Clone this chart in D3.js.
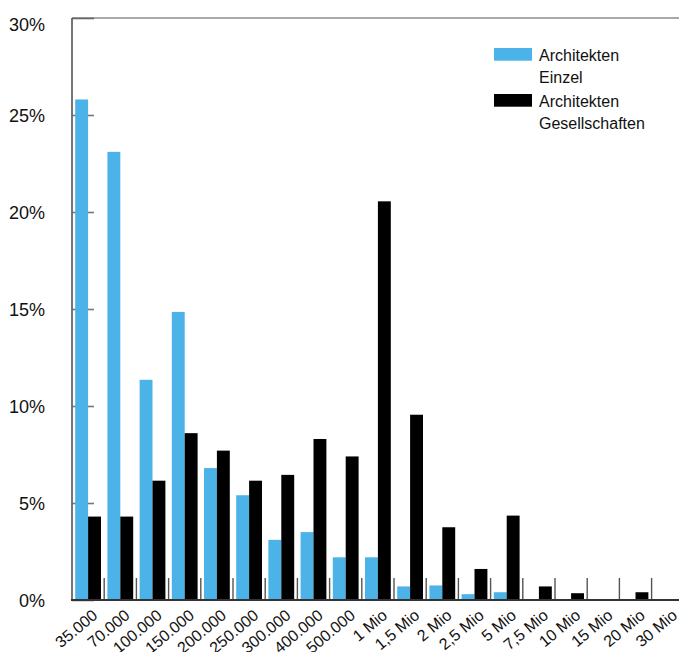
<!DOCTYPE html>
<html>
<head>
<meta charset="utf-8">
<script src="https://cdn.jsdelivr.net/npm/d3@7"></script>
<style>
  html, body { margin: 0; padding: 0; background: #fff; }
  svg { display: block; font-family: "Liberation Sans", Arial, Helvetica, sans-serif; }
</style>
</head>
<body>
<svg id="chart" width="679" height="652"></svg>
<script>
// ---- Data ----
const categories = ["35.000", "70.000", "100.000", "150.000", "200.000", "250.000", "300.000", "400.000", "500.000",
  "1 Mio", "1,5 Mio", "2 Mio", "2,5 Mio", "5 Mio", "7,5 Mio", "10 Mio", "15 Mio", "20 Mio", "30 Mio"];
const seriesNames = ["Architekten Einzel", "Architekten Gesellschaften"];
const einzel = [25.8, 23.1, 11.35, 14.85, 6.8, 5.4, 3.1, 3.5, 2.2, 2.2, 0.7, 0.75, 0.3, 0.4, 0, 0, 0, 0, 0];
const gesellschaften = [4.3, 4.3, 6.15, 8.6, 7.7, 6.15, 6.45, 8.3, 7.4, 20.55, 9.55, 3.75, 1.6, 4.35, 0.7, 0.35, 0, 0.4, 0];
const yTicks = [0, 5, 10, 15, 20, 25, 30];
const legendLines = [["Architekten", "Einzel"], ["Architekten", "Gesellschaften"]];
const colors = ["#4bb3e8", "#000000"];

// ---- Layout ----
const W = 679, H = 652;
const plotLeft = 72, plotTop = 18, plotBottom = 600;
const step = 32.2;

const svg = d3.select("#chart");

const x = d3.scaleBand().domain(categories).range([plotLeft, plotLeft + step * categories.length]).padding(0);
const xs = d3.scaleBand().domain(seriesNames).range([3.2, x.bandwidth() - 3.2]).padding(0);
const y = d3.scaleLinear().domain([0, 30]).range([plotBottom, plotTop]);

// y axis (ticks inside, behind bars)
const yAxis = d3.axisLeft(y).tickValues(yTicks).tickSize(-22).tickSizeOuter(0).tickPadding(27)
  .tickFormat(d => d + "%");
const gy = svg.append("g").attr("transform", `translate(${plotLeft},0)`).call(yAxis);
gy.select(".domain").remove();
gy.selectAll(".tick line").attr("stroke", "#777").attr("stroke-width", 1.6);
gy.selectAll(".tick text").attr("font-size", 18).attr("fill", "#111")
  .attr("font-family", "'Liberation Sans', Arial, sans-serif")
  .attr("dy", d => d === 30 ? "0.7em" : "0.35em");

// category separator ticks
svg.append("g").selectAll("line").data(categories.slice(1)).join("line")
  .attr("x1", d => x(d)).attr("x2", d => x(d))
  .attr("y1", plotBottom).attr("y2", plotBottom - 22)
  .attr("stroke", "#555").attr("stroke-width", 1.4);

// bars
const rows = categories.map((c, i) => ({ c, vals: [einzel[i], gesellschaften[i]] }));
const groups = svg.append("g").selectAll("g").data(rows).join("g")
  .attr("transform", d => `translate(${x(d.c)},0)`);
groups.selectAll("rect").data(d => d.vals.map((v, j) => ({ v, s: seriesNames[j], j }))).join("rect")
  .attr("x", d => xs(d.s))
  .attr("width", xs.bandwidth())
  .attr("y", d => y(d.v))
  .attr("height", d => plotBottom - y(d.v))
  .attr("fill", d => colors[d.j]);

// frame lines
svg.append("line").attr("x1", plotLeft).attr("x2", plotLeft).attr("y1", plotTop).attr("y2", plotBottom)
  .attr("stroke", "#666").attr("stroke-width", 1.8);
svg.append("line").attr("x1", plotLeft).attr("x2", W).attr("y1", plotTop).attr("y2", plotTop)
  .attr("stroke", "#555").attr("stroke-width", 1.2);
svg.append("line").attr("x1", plotLeft - 1).attr("x2", W).attr("y1", plotBottom).attr("y2", plotBottom)
  .attr("stroke", "#333").attr("stroke-width", 2);

// x labels
svg.append("g").selectAll("text").data(categories).join("text")
  .attr("transform", d => `translate(${x(d) + x.bandwidth() / 2 + 10.5},${plotBottom + 17}) rotate(-40)`)
  .attr("text-anchor", "end")
  .attr("font-size", 16)
  .attr("fill", "#111")
  .text(d => d);

// legend
const lg = svg.append("g").attr("transform", "translate(494,48)");
const items = lg.selectAll("g").data(legendLines).join("g")
  .attr("transform", (d, i) => `translate(0,${i * 46})`);
items.append("rect").attr("width", 38).attr("height", 12.7).attr("fill", (d, i) => colors[i]);
items.selectAll("text").data(d => d).join("text")
  .attr("x", 45).attr("y", (d, k) => 12.7 + k * 22)
  .attr("font-size", 16).attr("fill", "#111")
  .text(d => d);
</script>
</body>
</html>
